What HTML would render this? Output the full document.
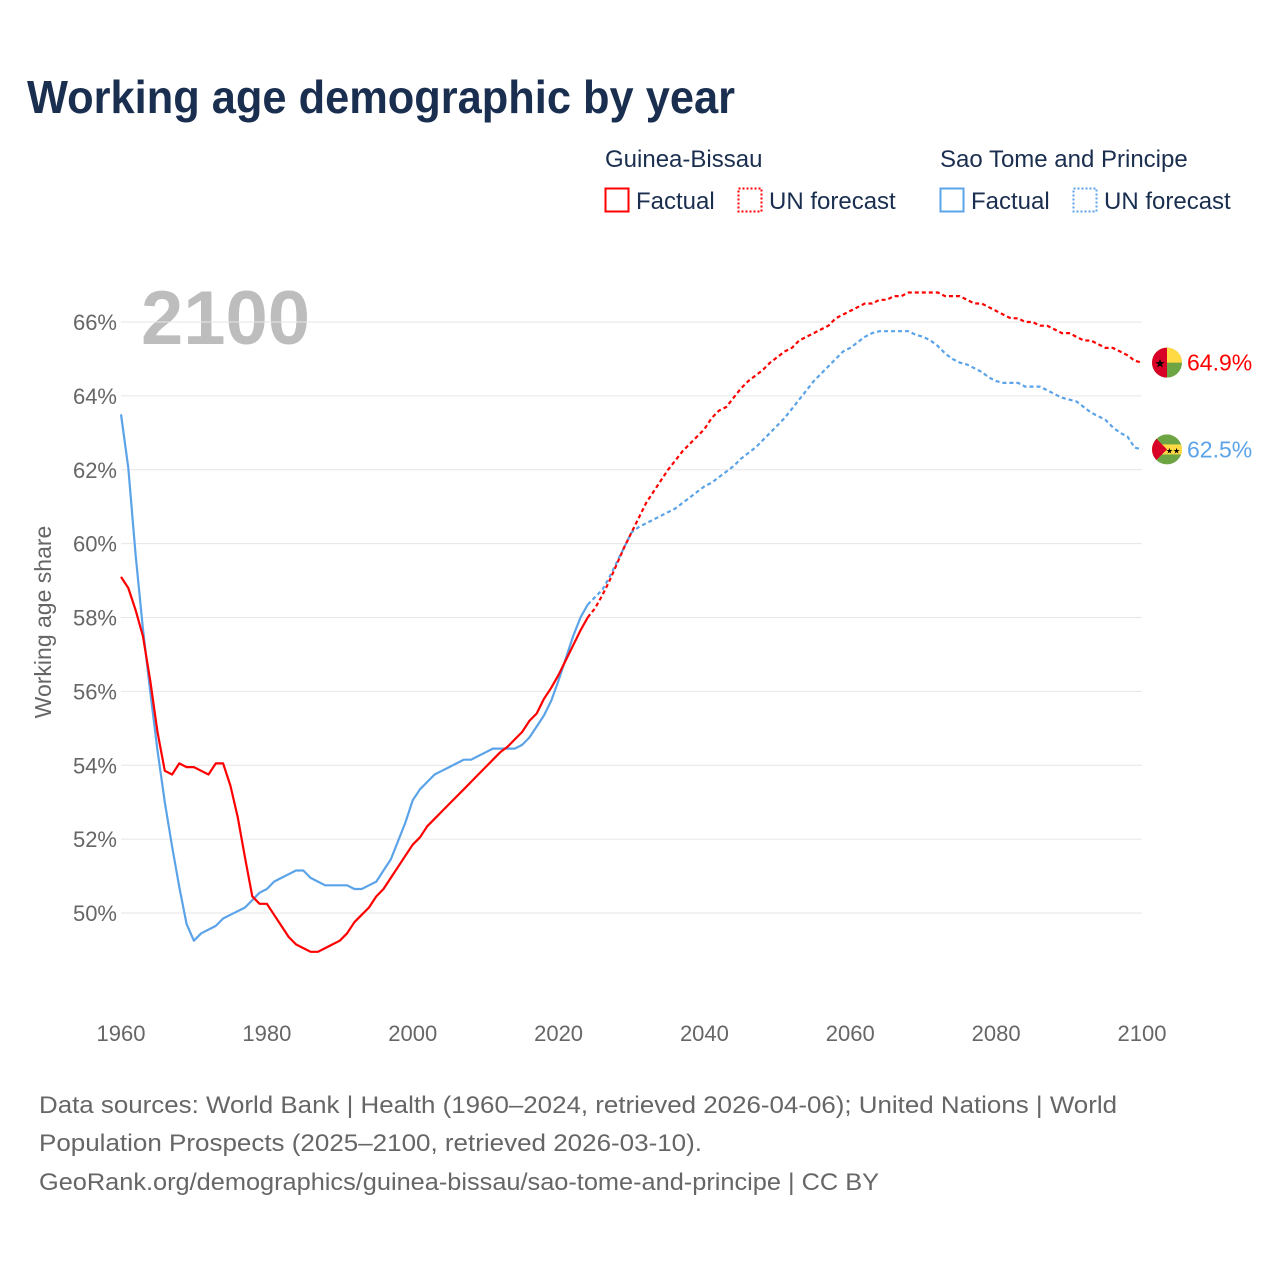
<!DOCTYPE html>
<html><head><meta charset="utf-8"><style>
body{margin:0;background:#fff;width:1280px;height:1280px;overflow:hidden;font-family:"Liberation Sans",sans-serif}
</style></head><body>
<svg id="chart" width="1280" height="1280" viewBox="0 0 1280 1280" xmlns="http://www.w3.org/2000/svg" font-family="Liberation Sans, sans-serif">
<text x="27" y="113" font-size="46" font-weight="bold" fill="#1a2e4f" textLength="708" lengthAdjust="spacingAndGlyphs">Working age demographic by year</text>
<g font-size="24" fill="#1a2e4f">
<text x="605" y="167">Guinea-Bissau</text>
<rect x="605.5" y="188.5" width="23" height="23" fill="none" stroke="#ff0000" stroke-width="2"/>
<text x="636" y="209">Factual</text>
<rect x="738.5" y="188.5" width="23" height="23" fill="none" stroke="#ff0000" stroke-width="2" stroke-dasharray="2 2"/>
<text x="769" y="209">UN forecast</text>
<text x="940" y="167">Sao Tome and Principe</text>
<rect x="940.5" y="188.5" width="23" height="23" fill="none" stroke="#5ba3e8" stroke-width="2"/>
<text x="971" y="209">Factual</text>
<rect x="1073.5" y="188.5" width="23" height="23" fill="none" stroke="#5ba3e8" stroke-width="2" stroke-dasharray="2 2"/>
<text x="1104" y="209">UN forecast</text>
</g>
<text x="141" y="344" font-size="76" font-weight="bold" fill="#bdbdbd">2100</text>
<text transform="translate(51,622) rotate(-90)" text-anchor="middle" font-size="23" fill="#666">Working age share</text>
<g id="grid"></g><g id="yt"></g><g id="xt"></g><g id="lines"></g><g id="ends"></g>
<g font-size="24" fill="#666">
<text x="39" y="1113" textLength="1078" lengthAdjust="spacingAndGlyphs">Data sources: World Bank | Health (1960–2024, retrieved 2026-04-06); United Nations | World</text>
<text x="39" y="1151" textLength="663" lengthAdjust="spacingAndGlyphs">Population Prospects (2025–2100, retrieved 2026-03-10).</text>
<text x="39" y="1190" textLength="840" lengthAdjust="spacingAndGlyphs">GeoRank.org/demographics/guinea-bissau/sao-tome-and-principe | CC BY</text>
</g>
</svg>
<script>
const yTicks=[50,52,54,56,58,60,62,64,66];
const xTicks=[1960,1980,2000,2020,2040,2060,2080,2100];
const gbFactual=[59.1,58.8,58.2,57.5,56.3,54.9,53.85,53.75,54.05,53.95,53.95,53.85,53.75,54.05,54.05,53.45,52.6,51.5,50.45,50.25,50.25,49.95,49.65,49.35,49.15,49.05,48.95,48.95,49.05,49.15,49.25,49.45,49.75,49.95,50.15,50.45,50.65,50.95,51.25,51.55,51.85,52.05,52.35,52.55,52.75,52.95,53.15,53.35,53.55,53.75,53.95,54.15,54.35,54.5,54.7,54.9,55.2,55.4,55.8,56.1,56.45,56.85,57.25,57.65,58.0];
const gbForecast=[58.25,58.6,59.0,59.45,59.9,60.3,60.7,61.1,61.4,61.7,62.0,62.25,62.5,62.7,62.9,63.1,63.4,63.6,63.7,63.95,64.2,64.4,64.55,64.7,64.9,65.05,65.2,65.3,65.5,65.6,65.7,65.8,65.9,66.1,66.2,66.3,66.4,66.5,66.5,66.6,66.6,66.7,66.7,66.8,66.8,66.8,66.8,66.8,66.7,66.7,66.7,66.6,66.5,66.5,66.4,66.3,66.2,66.1,66.1,66.0,66.0,65.9,65.9,65.8,65.7,65.7,65.6,65.5,65.5,65.4,65.3,65.3,65.2,65.1,64.95,64.9];
const stpFactual=[63.5,62.05,59.7,57.7,56.0,54.4,53.0,51.8,50.7,49.7,49.25,49.45,49.55,49.65,49.85,49.95,50.05,50.15,50.35,50.55,50.65,50.85,50.95,51.05,51.15,51.15,50.95,50.85,50.75,50.75,50.75,50.75,50.65,50.65,50.75,50.85,51.15,51.45,51.95,52.45,53.05,53.35,53.55,53.75,53.85,53.95,54.05,54.15,54.15,54.25,54.35,54.45,54.45,54.45,54.45,54.55,54.75,55.05,55.35,55.75,56.3,56.9,57.5,58.0,58.35];
const stpForecast=[58.55,58.75,59.1,59.5,59.9,60.3,60.45,60.55,60.65,60.75,60.85,60.95,61.1,61.25,61.4,61.55,61.65,61.8,61.95,62.1,62.3,62.45,62.6,62.8,63.0,63.2,63.4,63.65,63.9,64.15,64.4,64.6,64.8,65.0,65.2,65.3,65.45,65.6,65.7,65.75,65.75,65.75,65.75,65.75,65.65,65.6,65.5,65.35,65.15,65.0,64.9,64.85,64.75,64.65,64.5,64.4,64.35,64.35,64.35,64.25,64.25,64.25,64.15,64.05,63.95,63.9,63.85,63.7,63.55,63.45,63.35,63.15,63.0,62.9,62.6,62.55];
const NS="http://www.w3.org/2000/svg";
const X=y=>121+(y-1960)*(1021/140);
const Y=v=>913-(v-50)*(591/16);
function el(t,a,p){const e=document.createElementNS(NS,t);for(const k in a)e.setAttribute(k,a[k]);document.getElementById(p).appendChild(e);return e;}
yTicks.forEach(v=>{
 const g=el('line',{x1:121,x2:1142,y1:Y(v),y2:Y(v),stroke:'#e6e6e6','stroke-width':1},'grid');
 
 
 const t=el('text',{x:117,y:Y(v)+8,'text-anchor':'end','font-size':22,fill:'#666'},'yt');
 t.textContent=v+'%';
 
 
});
xTicks.forEach(v=>{
 const t=el('text',{x:X(v),y:1041,'text-anchor':'middle','font-size':22,fill:'#666'},'xt');
 t.textContent=v;
 
 
});
function line(arr,start,color,dash,name){
 const d=arr.map((v,i)=>(i?'L':'M')+X(start+i).toFixed(1)+','+Y(v).toFixed(1)).join('');
 const p=el('path',{d:d,fill:'none',stroke:color,'stroke-width':2.2,'stroke-linejoin':'round'},'lines');
 if(dash)p.setAttribute('stroke-dasharray','4 3');
 
 
}
line(stpFactual,1960,'#5ba3e8',false,'stp-factual-line');
line([stpFactual[stpFactual.length-1]].concat(stpForecast),2024,'#5ba3e8',true,'stp-forecast-line');
line(gbFactual,1960,'#ff0000',false,'gb-factual-line');
line([gbFactual[gbFactual.length-1]].concat(gbForecast),2024,'#ff0000',true,'gb-forecast-line');
const gbEnd=gbForecast[gbForecast.length-1], stpEnd=stpForecast[stpForecast.length-1];
const ends=document.getElementById('ends');
function flag(cy,html,name){const g=document.createElementNS(NS,'g');g.innerHTML=html;g.setAttribute('transform','translate(1167,'+cy+')');ends.appendChild(g);
 
 }
flag(Y(gbEnd),'<clipPath id="c1"><circle r="15"/></clipPath><g clip-path="url(#c1)"><rect x="-15" y="-15" width="30" height="30" fill="#6da544"/><rect x="-15" y="-15" width="30" height="15" fill="#ffda44"/><rect x="-15" y="-15" width="15" height="30" fill="#d80027"/></g><text x="-7" y="5" font-size="12" text-anchor="middle" fill="#000">★</text>','gb-flag');
flag(Y(stpEnd),'<clipPath id="c2"><circle r="15"/></clipPath><g clip-path="url(#c2)"><rect x="-15" y="-15" width="30" height="30" fill="#6da544"/><rect x="-15" y="-5" width="30" height="10" fill="#ffda44"/><path d="M-15,-15L0,0L-15,15Z" fill="#d80027"/></g><text x="6" y="4" font-size="8" text-anchor="middle" fill="#000">★★</text>','stp-flag');
const t1=el('text',{x:1187,y:Y(gbEnd)+8,'font-size':23,fill:'#ff0000'},'ends');t1.textContent=gbEnd.toFixed(1)+'%';


const t2=el('text',{x:1187,y:Y(stpEnd)+8,'font-size':23,fill:'#5ba3e8'},'ends');t2.textContent=stpEnd.toFixed(1)+'%';


</script>
</body></html>
